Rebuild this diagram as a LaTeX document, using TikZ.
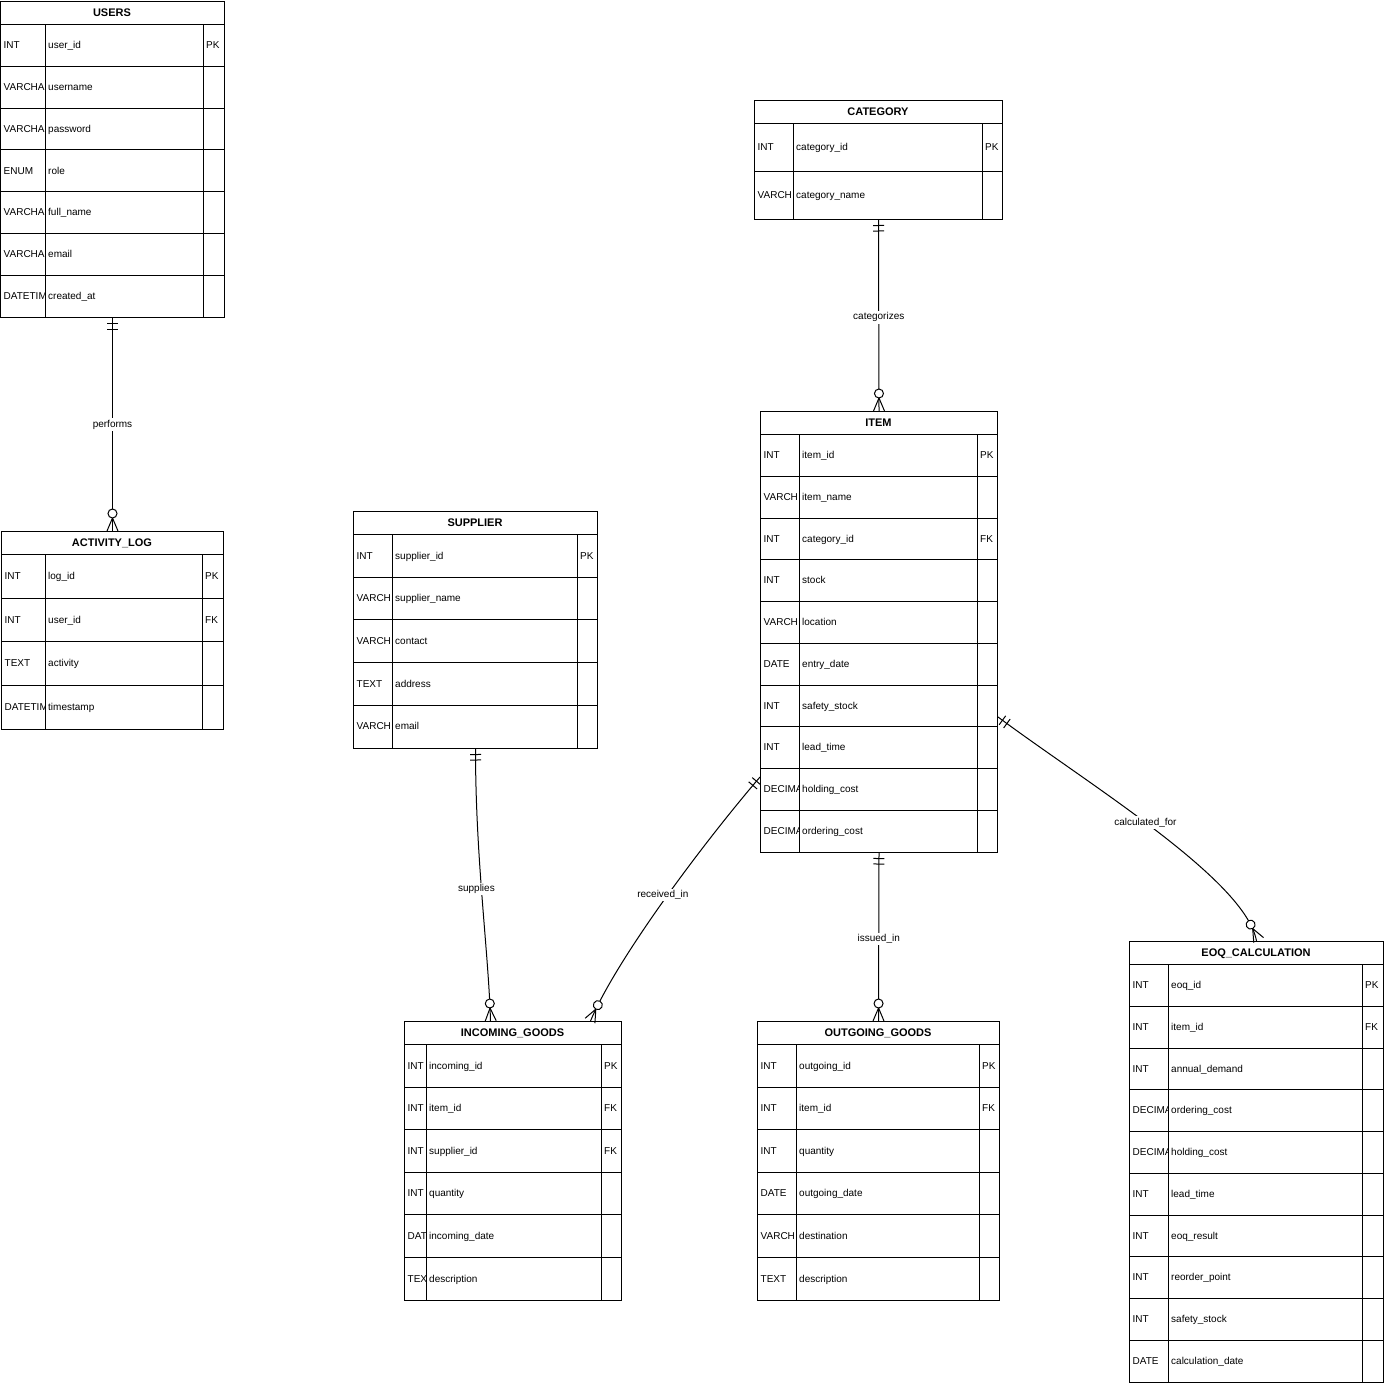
\documentclass[tikz,border=0pt]{standalone}
\usepackage{fontspec}
\setmainfont{Liberation Sans}
\usetikzlibrary{decorations.markings,calc}

\tikzset{
  tablebox/.style={draw, line width=1pt, inner sep=0pt, fill=white},
  tline/.style={line width=1pt},
  celltext/.style={anchor=base west, inner sep=0pt, font=\fontsize{10}{12}\selectfont},
  titletext/.style={anchor=base, inner sep=0pt, font=\fontsize{11}{13}\selectfont\bfseries},
  rel/.style={line width=1pt},
  rellabel/.style={fill=white, inner sep=1.5pt, font=\fontsize{10}{12}\selectfont},
  oneone/.style={postaction={decorate,decoration={markings,
    mark=at position 5.5pt with {\draw[line width=1pt] (0,-5.5) -- (0,5.5);},
    mark=at position 11pt with {\draw[line width=1pt] (0,-5.5) -- (0,5.5);}}}},
  zeromany/.style={postaction={decorate,decoration={markings,
    mark=at position -17.5pt with {\draw[line width=1pt, fill=white] (0,0) circle[radius=4.5pt];
      \draw[line width=1pt] (4.5,0) -- (17.5,5.5) (4.5,0) -- (17.5,-5.5);}}}},
}

% #1 name, #2 left x, #3 top y, #4 right x, #5 bottom y, #6 divider 1, #7 divider 2, #8 title, #9 rows
\newcommand{\ertable}[9]{%
  \pgfmathsetmacro\erw{#4-#2}%
  \pgfmathsetmacro\erh{#5-#3}%
  \node[tablebox, minimum width=\erw pt, minimum height=\erh pt, anchor=north west] (#1) at (#2,#3) {};
  \foreach \ety/\etn/\etk [count=\eti] in {#9} {\xdef\ern{\eti}}%
  \pgfmathsetmacro\errh{(#5-#3-23.5)/\ern}%
  \draw[tline] (#2,#3+23.5) -- (#4,#3+23.5);
  \draw[tline] (#6,#3+23.5) -- (#6,#5);
  \draw[tline] (#7,#3+23.5) -- (#7,#5);
  \node[titletext] (#1-title) at ({(#2+#4)/2},#3+15.6) {#8};
  \foreach \ety/\etn/\etk [count=\eti] in {#9} {
    \pgfmathsetmacro\erya{#3+23.5+(\eti-1)*\errh}
    \pgfmathsetmacro\eryb{#3+23.5+\eti*\errh}
    \pgfmathsetmacro\eryc{(\erya+\eryb)/2+3.3}
    \ifnum\eti>1 \draw[tline] (#2,\erya) -- (#4,\erya); \fi
    \begin{scope}
      \clip (#2,\erya) rectangle (#6,\eryb);
      \node[celltext] (#1-t\eti) at (#2+3.5,\eryc) {\ety};
    \end{scope}
    \node[celltext] (#1-n\eti) at (#6+3,\eryc) {\etn};
    \node[celltext] (#1-k\eti) at (#7+3,\eryc) {\etk};
  }
}

\begin{document}
\begin{tikzpicture}[x=1pt,y=-1pt]
\fill[white] (0,0) rectangle (1384,1383);
\useasboundingbox (0,0) rectangle (1384,1383);

\ertable{users}{0}{1}{224}{317}{45}{203}{USERS}{INT/user\_id/PK, VARCHA/username/{}, VARCHA/password/{}, ENUM/role/{}, VARCHA/full\_name/{}, VARCHA/email/{}, DATETIM/created\_at/{}}

\ertable{activity}{1}{531}{223}{729}{45}{202}{ACTIVITY\_LOG}{INT/log\_id/PK, INT/user\_id/FK, TEXT/activity/{}, DATETIM/timestamp/{}}

\ertable{supplier}{353}{511}{597}{748}{392}{577}{SUPPLIER}{INT/supplier\_id/PK, VARCH/supplier\_name/{}, VARCH/contact/{}, TEXT/address/{}, VARCH/email/{}}

\ertable{category}{754}{100}{1002}{219}{793}{982}{CATEGORY}{INT/category\_id/PK, VARCH/category\_name/{}}

\ertable{item}{760}{411}{997}{852}{799}{977}{ITEM}{INT/item\_id/PK, VARCH/item\_name/{}, INT/category\_id/FK, INT/stock/{}, VARCH/location/{}, DATE/entry\_date/{}, INT/safety\_stock/{}, INT/lead\_time/{}, DECIMA/holding\_cost/{}, DECIMA/ordering\_cost/{}}

\ertable{incoming}{404}{1021}{621}{1300}{426}{601}{INCOMING\_GOODS}{INT/incoming\_id/PK, INT/item\_id/FK, INT/supplier\_id/FK, INT/quantity/{}, DAT/incoming\_date/{}, TEX/description/{}}

\ertable{outgoing}{757}{1021}{999}{1300}{796}{979}{OUTGOING\_GOODS}{INT/outgoing\_id/PK, INT/item\_id/FK, INT/quantity/{}, DATE/outgoing\_date/{}, VARCH/destination/{}, TEXT/description/{}}

\ertable{eoq}{1129}{941}{1383}{1382}{1168}{1362}{EOQ\_CALCULATION}{INT/eoq\_id/PK, INT/item\_id/FK, INT/annual\_demand/{}, DECIMA/ordering\_cost/{}, DECIMA/holding\_cost/{}, INT/lead\_time/{}, INT/eoq\_result/{}, INT/reorder\_point/{}, INT/safety\_stock/{}, DATE/calculation\_date/{}}

% relationships
\draw[rel, oneone, zeromany] (users.south) -- node[rellabel, pos=0.5] (lperforms) {performs} (activity.north);
\draw[rel, oneone, zeromany] (category.south) -- node[rellabel, pos=0.51] (lcat) {categorizes} (item.north);
\draw[rel, oneone, zeromany] (item.south) -- node[rellabel, pos=0.51] (lissued) {issued\_in} (outgoing.north);
\draw[rel, oneone, zeromany] (supplier.south) .. controls +(0,110) and +(-2,-70) .. ($(incoming.north)+(-22.5,0)$)
  node[rellabel, pos=0.46, xshift=-5pt] (lsupplies) {supplies};
\draw[rel, oneone, zeromany] ($(item.west)+(0,145)$) .. controls +(-60,70) and +(25,-60) .. ($(incoming.north)+(77.5,0)$)
  node[rellabel, pos=0.47, xshift=-5pt] (lreceived) {received\_in};
\draw[rel, oneone, zeromany] ($(item.east)+(0,85)$) .. controls +(93,69) and +(-11,-61) .. (eoq.north)
  node[rellabel, pos=0.46] (lcalc) {calculated\_for};
\end{tikzpicture}
\end{document}
